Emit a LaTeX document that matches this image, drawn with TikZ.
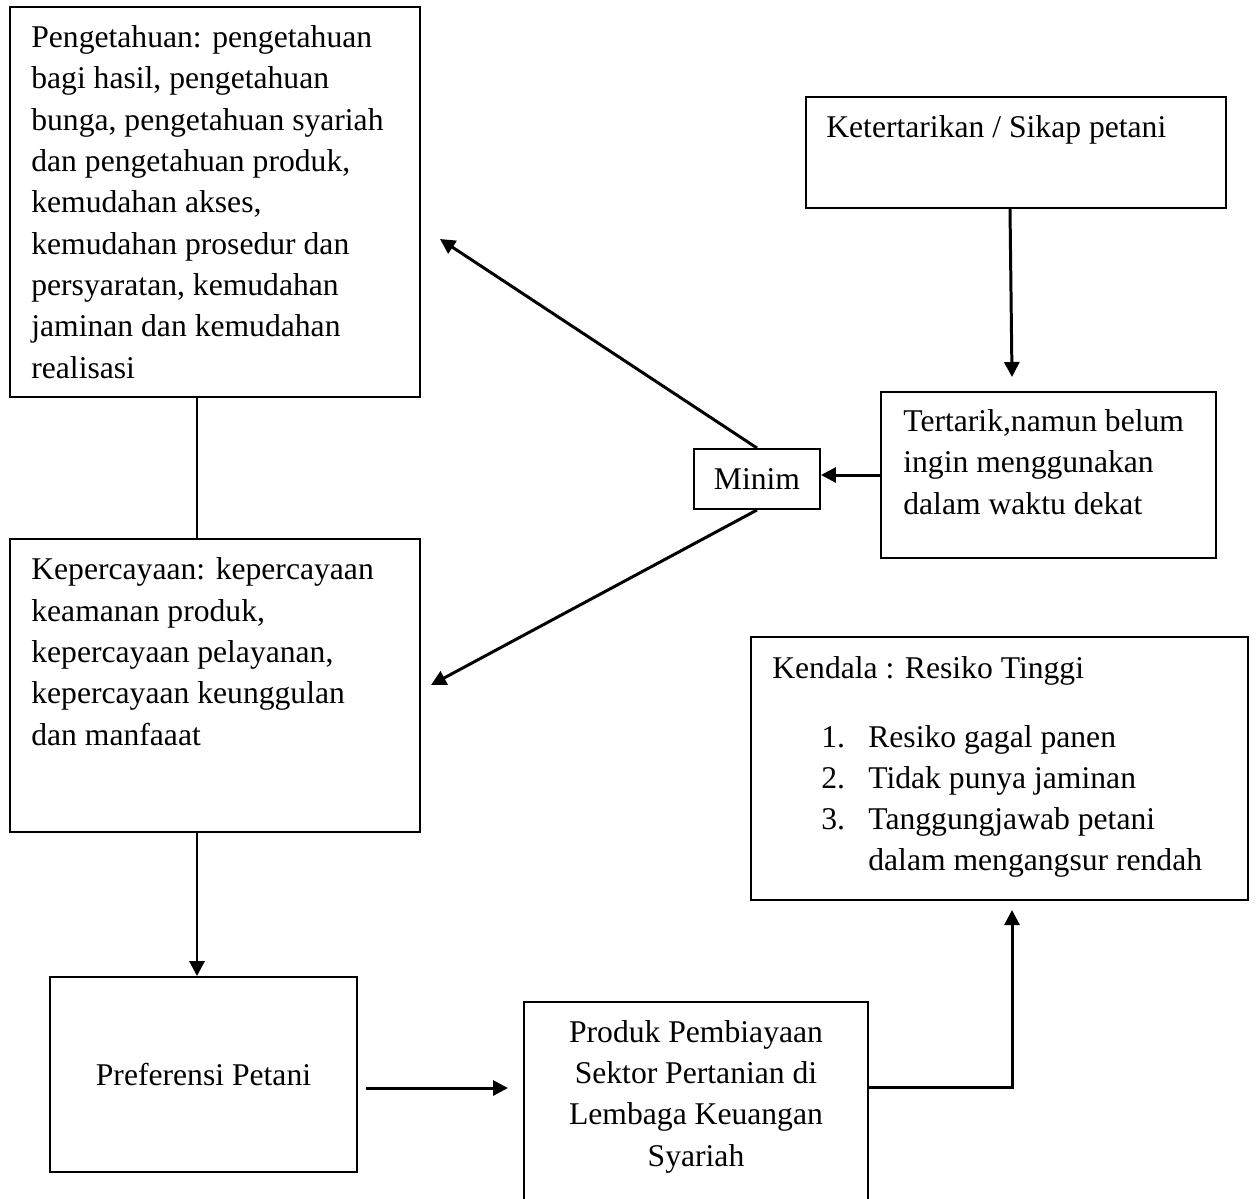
\documentclass[tikz,border=0pt]{standalone}
\usepackage{fontspec}
\setmainfont{Liberation Serif}
\usepackage{tikz}
\usetikzlibrary{
    arrows.meta,
    positioning,
    calc
}
\tikzset{
  box/.style  = {draw, line width=1.1pt, inner sep=0pt},
  txt/.style  = {inner sep=0pt, align=left},
  link/.style = {line width=1.1pt},
  arr/.style  = {-{Triangle[length=3mm,width=3mm]}, line width=1.7pt}
}

\begin{document}
\begin{tikzpicture}[
    x=0.2mm, y=-0.2mm,
    font=\fontsize{18}{23.5}\selectfont
]
\useasboundingbox (0,0) rectangle (1256,1198);

% boxes
\node[box, minimum width=82mm, minimum height=78mm] (know) at (215,202) {};
\node[box, minimum width=82mm, minimum height=58.6mm] (trust) at (215,685.5) {};
\node[box, minimum width=84mm, minimum height=22.2mm] (attr) at (1016,152.5) {};
\node[box, minimum width=67mm, minimum height=33.2mm] (int) at (1048.5,475) {};
\node[box, minimum width=25.2mm, minimum height=12mm] (minim) at (757,479) {Minim};
\node[box, minimum width=99.4mm, minimum height=52.6mm] (obst) at (999.5,768.5) {};
\node[box, minimum width=61.4mm, minimum height=39mm] (pref) at (203.5,1074.5) {Preferensi Petani};
\node[box, minimum width=68.8mm, minimum height=42mm] (prod) at (696,1107) {};

% texts (base = last line)
\node[txt, anchor=base west] (know-t) at (31,378) {Pengetahuan: pengetahuan\\
  bagi hasil, pengetahuan\\ bunga, pengetahuan syariah\\
  dan pengetahuan produk,\\ kemudahan akses,\\ kemudahan prosedur dan\\
  persyaratan, kemudahan\\ jaminan dan kemudahan\\ realisasi};
\node[txt, anchor=base west] (trust-t) at (31,745) {Kepercayaan: kepercayaan\\
  keamanan produk,\\ kepercayaan pelayanan,\\ kepercayaan keunggulan\\
  dan manfaaat};
\node[txt, anchor=base west] (attr-t) at (826,137) {Ketertarikan / Sikap petani};
\node[txt, anchor=base west] (int-t) at (903,514) {Tertarik,namun belum\\
  ingin menggunakan\\ dalam waktu dekat};
\node[txt, anchor=base west] (obst-t) at (772,678) {Kendala : Resiko Tinggi};
\node[txt, anchor=base west] (obst-l) at (821,747) {%
  \begin{tabular}[t]{@{}p{9.4mm}@{}l@{}}
    1. & Resiko gagal panen\\
    2. & Tidak punya jaminan\\
    3. & Tanggungjawab petani\\
       & dalam mengangsur rendah
  \end{tabular}};
\node[txt, align=center, anchor=base] (prod-t) at (696,1166) {Produk Pembiayaan\\
  Sektor Pertanian di\\ Lembaga Keuangan\\ Syariah};

% free ends
\coordinate (spine) at (197,0);
\coordinate (know-in) at (440,239);
\coordinate (trust-in) at (431,685);
\coordinate (int-in) at (1012,377);
\coordinate (pp-a) at (366,1088);
\coordinate (pp-b) at (508,1088);
\coordinate (bend) at (1012,1087);
\coordinate (obst-in) at (1012,910);

% connectors
\draw[link] (know.south -| spine) -- (trust.north -| spine);
\draw[arr] (trust.south -| spine) -- (pref.north -| spine);
\draw[arr] (minim.north) -- (know-in);
\draw[arr] (minim.south) -- (trust-in);
\draw[arr] (int.west) -- (int.west -| minim.east);
\draw[arr] ($(attr.south)+(-6,0)$) -- (int-in);
\draw[arr] (pp-a) -- (pp-b);
\draw[arr] (bend -| prod.east) -- (bend) -- (obst-in);
\end{tikzpicture}
\end{document}
